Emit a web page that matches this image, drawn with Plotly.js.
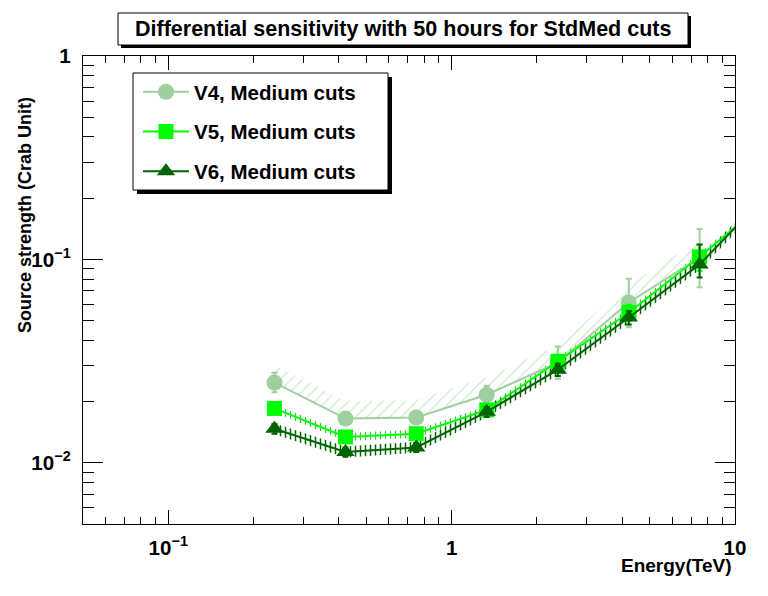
<!DOCTYPE html>
<html>
<head>
<meta charset="utf-8">
<script src="https://cdn.plot.ly/plotly-3.0.1.min.js"></script>
<style>html,body{margin:0;padding:0;background:#fff;}#chart{width:768px;height:596px;}</style>
</head>
<body>
<div id="chart"></div>
<script>
// ---- data ----
const energy = [0.237, 0.422, 0.75, 1.33, 2.37, 4.22, 7.5];
const tailEnergy = 13.3;

const v4 = [0.0248, 0.0165, 0.0167, 0.0216, 0.0311, 0.0614, 0.102];
const v4ErrUp = [0.0029, 0.0010, 0.0010, 0.0023, 0.0062, 0.019, 0.039];
const v4ErrDown = [0.0026, 0.0010, 0.0010, 0.0020, 0.0052, 0.015, 0.029];

const v5 = [0.0185, 0.0134, 0.0139, 0.0182, 0.0315, 0.0548, 0.103];
const v5Tail = 0.20;
const v5Err = [0.0010, 0.0007, 0.0007, 0.0012, 0.0025, 0.005, 0.015];

const v6 = [0.0147, 0.0113, 0.0119, 0.0178, 0.0287, 0.0518, 0.0945];
const v6Tail = 0.215;
const v6ErrUp = [0.0008, 0.0006, 0.0006, 0.0010, 0.0020, 0.004, 0.024];
const v6ErrDown = [0.0008, 0.0006, 0.0006, 0.0010, 0.0020, 0.004, 0.013];

const seriesNames = ['V4, Medium cuts', 'V5, Medium cuts', 'V6, Medium cuts'];
const titleText = 'Differential sensitivity with 50 hours for StdMed cuts';
const xTitle = 'Energy(TeV)';
const yTitle = 'Source strength (Crab Unit)';

// ---- styles ----
const C4 = '#9fcf9f', C4h = '#c2e2c2';
const C5 = '#00ff00', C5h = '#33cc33';
const C6 = '#006400', C6h = '#006400';
const FONT = 'Liberation Sans, Arial, sans-serif';

// plot area in pixels
const L = 83, R = 735, T = 56, B = 524;
const px = x => (x - L) / (R - L);
const py = y => (B - y) / (B - T);

const e56 = energy.concat([tailEnergy]);
const v5full = v5.concat([v5Tail]);
const v6full = v6.concat([v6Tail]);

function band(xs, ys, lo, hi, shape, color, size, sol) {
  return [
    {x: xs, y: ys.map(v => v * lo), mode: 'lines', line: {width: 0, color: 'rgba(0,0,0,0)'},
     showlegend: false, hoverinfo: 'skip', type: 'scatter'},
    {x: xs, y: ys.map(v => v * hi), mode: 'lines', line: {width: 0, color: 'rgba(0,0,0,0)'},
     fill: 'tonexty', fillcolor: 'rgba(0,0,0,0)',
     fillpattern: {shape: shape, fgcolor: color, bgcolor: 'rgba(0,0,0,0)', size: size, solidity: sol},
     showlegend: false, hoverinfo: 'skip', type: 'scatter'}
  ];
}

const traces = [].concat(
  band(energy, v4, 1.0, 1.22, '/', C4h, 8, 0.12),
  band(e56, v5full, 0.955, 1.045, '|', C5h, 5, 0.25),
  band(e56, v6full, 0.94, 1.065, '|', C6h, 5, 0.3),
  [
    {x: energy, y: v4, name: seriesNames[0], legendgroup: 'a', type: 'scatter', mode: 'lines+markers',
     line: {color: C4, width: 2}, marker: {symbol: 'circle', size: 16, color: C4},
     error_y: {type: 'data', symmetric: false, array: v4ErrUp, arrayminus: v4ErrDown, color: C4, thickness: 2, width: 3}},
    {x: e56, y: v5full, name: seriesNames[1], legendgroup: 'b', type: 'scatter', mode: 'lines+markers',
     line: {color: C5, width: 2}, marker: {symbol: 'square', size: 15, color: C5},
     error_y: {type: 'data', array: v5Err.concat([0]), color: C5, thickness: 2, width: 3}},
    {x: e56, y: v6full, name: seriesNames[2], legendgroup: 'c', type: 'scatter', mode: 'lines+markers',
     line: {color: C6, width: 2}, marker: {symbol: 'triangle-up', size: 16, color: C6},
     error_y: {type: 'data', symmetric: false, array: v6ErrUp.concat([0]), arrayminus: v6ErrDown.concat([0]), color: C6, thickness: 2, width: 3}}
  ]
);

const tickFont = {family: FONT, size: 16.5, color: '#000', weight: 'bold'};

const layout = {
  width: 768, height: 596,
  margin: {l: L, r: 768 - R, t: T, b: 596 - B, pad: 0},
  paper_bgcolor: '#fff', plot_bgcolor: '#fff',
  showlegend: true,
  legend: {x: px(138), y: py(72), xanchor: 'left', yanchor: 'top', bgcolor: 'rgba(0,0,0,0)', borderwidth: 0,
           font: {family: FONT, size: 20.5, color: '#000', weight: 'bold'}, tracegroupgap: 10, itemwidth: 46},
  xaxis: {type: 'log', range: [Math.log10(0.05), 1], showgrid: false, zeroline: false,
          showline: true, linecolor: '#000', linewidth: 1, mirror: 'ticks',
          ticks: 'inside', ticklen: 14, tickwidth: 1, tickcolor: '#000',
          tickmode: 'linear', tick0: 0, dtick: 1, exponentformat: 'power',
          tickfont: tickFont, ticklabelstandoff: 6,
          minor: {ticks: 'inside', ticklen: 7, tickwidth: 1, tickcolor: '#000', dtick: 'D1', showgrid: false}},
  yaxis: {type: 'log', range: [Math.log10(0.005), 0], showgrid: false, zeroline: false,
          showline: true, linecolor: '#000', linewidth: 1, mirror: 'ticks',
          ticks: 'inside', ticklen: 20, tickwidth: 1, tickcolor: '#000',
          tickmode: 'linear', tick0: 0, dtick: 1, exponentformat: 'power',
          tickfont: tickFont, ticklabelstandoff: 8,
          minor: {ticks: 'inside', ticklen: 11, tickwidth: 1, tickcolor: '#000', dtick: 'D1', showgrid: false}},
  shapes: [
    {type: 'rect', xref: 'paper', yref: 'paper', x0: px(121), x1: px(691), y0: py(16), y1: py(48),
     fillcolor: '#000', line: {width: 0}, layer: 'above'},
    {type: 'rect', xref: 'paper', yref: 'paper', x0: px(118), x1: px(688), y0: py(13), y1: py(45),
     fillcolor: '#fff', line: {width: 1, color: '#000'}, layer: 'above'},
    {type: 'rect', xref: 'paper', yref: 'paper', x0: px(137), x1: px(392), y0: py(77), y1: py(194),
     fillcolor: '#000', line: {width: 0}, layer: 'above'},
    {type: 'rect', xref: 'paper', yref: 'paper', x0: px(133), x1: px(388), y0: py(73), y1: py(190),
     fillcolor: '#fff', line: {width: 1, color: '#000'}, layer: 'above'}
  ],
  annotations: [
    {text: titleText, xref: 'paper', yref: 'paper', x: px(403), y: py(29), xanchor: 'center', yanchor: 'middle',
     showarrow: false, font: {family: FONT, size: 21.5, color: '#000', weight: 'bold'}},
    {text: yTitle, xref: 'paper', yref: 'paper', x: px(25), y: py(215), xanchor: 'center', yanchor: 'middle',
     textangle: -90, showarrow: false, font: {family: FONT, size: 18, color: '#000', weight: 'bold'}},
    {text: xTitle, xref: 'paper', yref: 'paper', x: px(734), y: py(565), xanchor: 'right', yanchor: 'middle',
     showarrow: false, font: {family: FONT, size: 19, color: '#000', weight: 'bold'}}
  ]
};

Plotly.newPlot('chart', traces, layout, {staticPlot: true, displayModeBar: false});
</script>
</body>
</html>
